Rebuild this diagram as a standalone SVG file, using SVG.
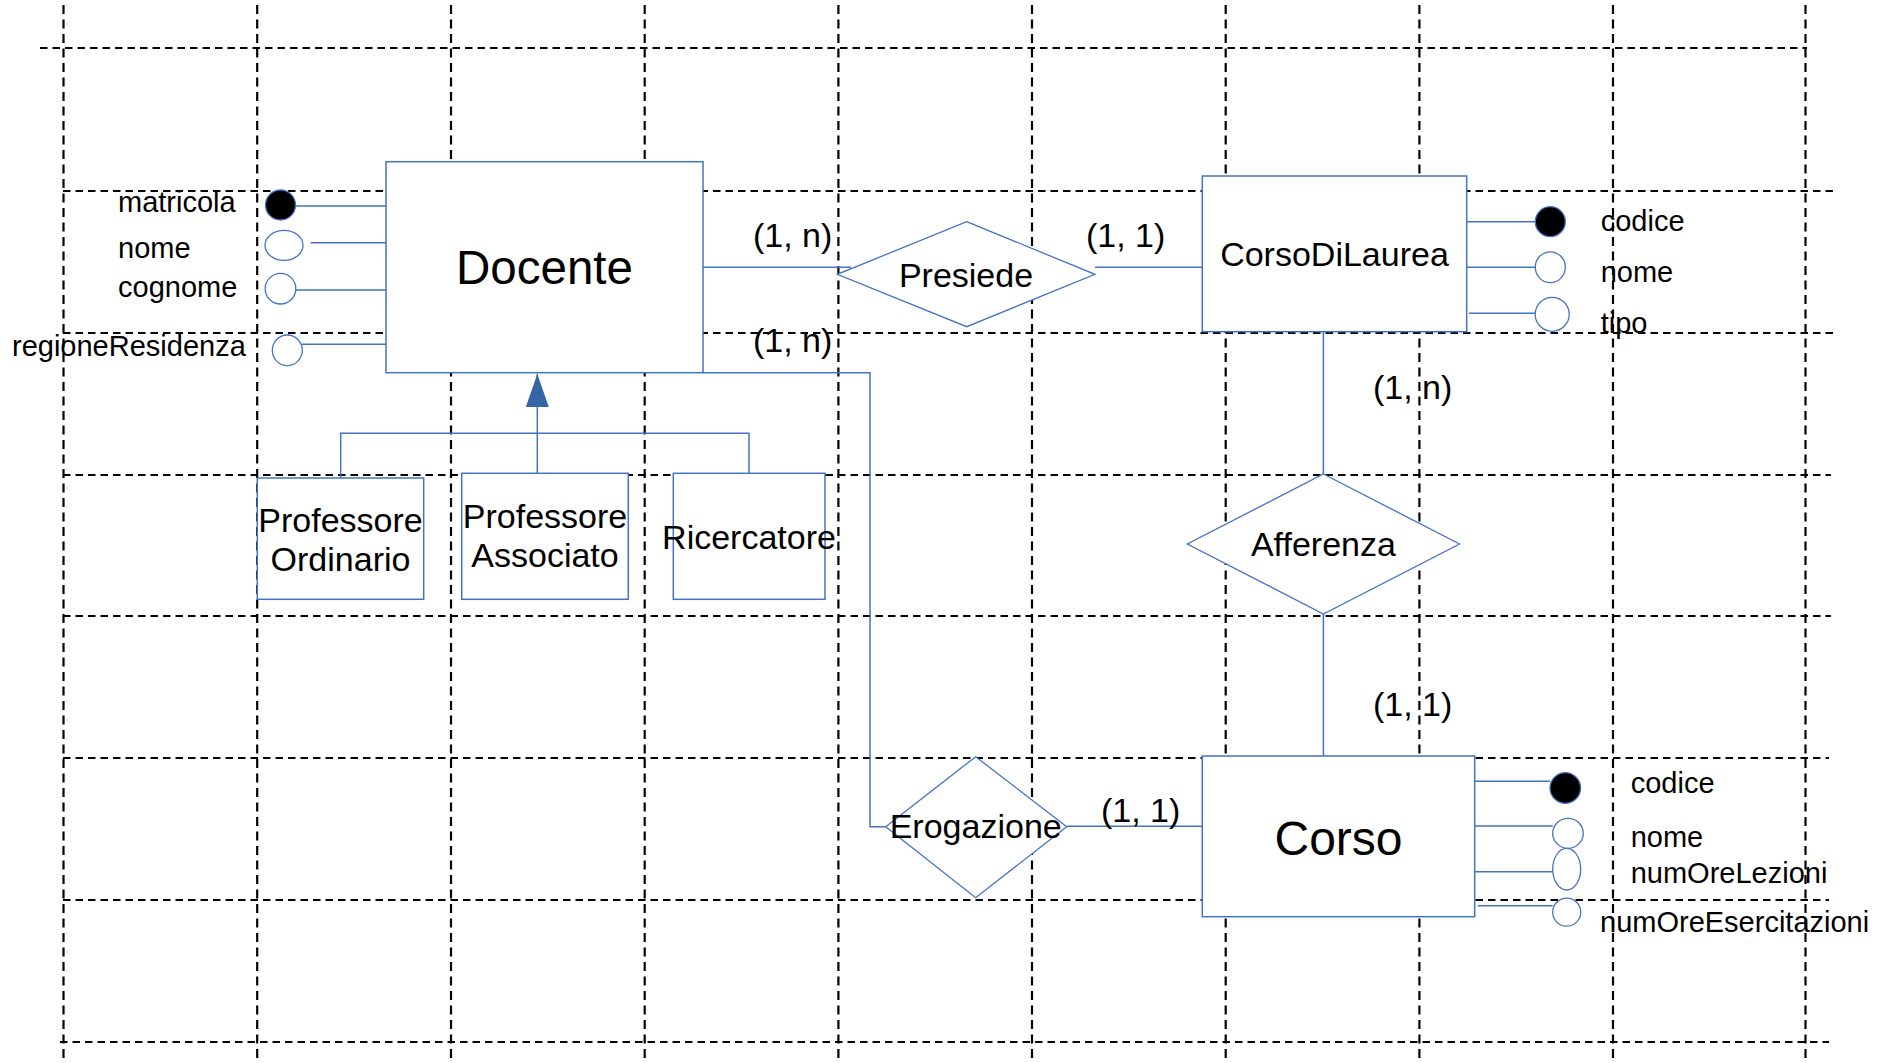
<svg xmlns="http://www.w3.org/2000/svg" width="1877" height="1063" viewBox="0 0 1877 1063">
<style>
.gh{stroke:#000;stroke-width:2.2;stroke-dasharray:7.5 5;fill:none}
.gv{stroke:#000;stroke-width:2.2;stroke-dasharray:9 5.5;fill:none}
.ent{fill:#fff;stroke:#4472c4;stroke-width:1.5}
.rel{fill:#fff;stroke:#4472c4;stroke-width:1.3}
.conn{stroke:#4472c4;stroke-width:1.5;fill:none}
.attr{fill:#fff;stroke:#4472c4;stroke-width:1.3}
.key{fill:#000;stroke:#4472c4;stroke-width:1.3}
text{font-family:"Liberation Sans",Arial,sans-serif;fill:#000}
.lbl{font-size:29px}
.card{font-size:34px}
.nm{font-size:34px;text-anchor:middle}
.big{font-size:47.5px;text-anchor:middle}
</style>
<defs>
<marker id="gen" markerUnits="userSpaceOnUse" markerWidth="34" markerHeight="24" refX="33" refY="11.5" orient="auto">
<path d="M0,0 L33,11.5 L0,23 Z" fill="#3465a4"/>
</marker>
</defs>
<rect width="1877" height="1063" fill="#fff"/>
<g id="grid">
<path class="gv" d="M63.5,5V1060M257.2,5V1060M451,5V1060M644.7,5V1060M838.4,5V1060M1032,5V1060M1225.7,5V1060M1419.4,5V1060M1613,5V1060M1805.5,5V1060"/>
<path class="gh" d="M40,48H1807M63,191H1836M63,333H1836M63,475H1831M63,616H1831M63,758H1829M63,900H1829M60,1042H1829"/>
</g>
<g id="connectors">
<path class="conn" d="M296,206H386M310.7,242.7H386M296,290H386M302,344.3H389"/>
<path class="conn" d="M703,267.3H851M1095,267.3H1202"/>
<path class="conn" d="M1467,221.7H1535M1467,267.3H1535M1469,313.3H1535"/>
<path class="conn" d="M1323.4,331.7V474M1323.4,614V756"/>
<path class="conn" d="M703,372.7H870V826.7H885.7M1066.7,826.3H1202"/>
<path class="conn" d="M1474.7,781.3H1550M1474.7,826H1552.7M1474.7,871.7H1552.7M1477.7,905.7H1552.7"/>
<path class="conn" d="M340.7,478V433.3H749V473.3"/>
<path class="conn" d="M537.3,473.3V374" marker-end="url(#gen)"/>
</g>
<g id="Docente">
<rect class="ent" x="386" y="161.7" width="317" height="211"/>
<text class="big" x="544.5" y="284">Docente</text>
</g>
<g id="attr-matricola"><ellipse class="key" cx="280.5" cy="205" rx="15" ry="15"/><text class="lbl" x="118" y="212">matricola</text></g>
<g id="attr-nome-docente"><ellipse class="attr" cx="284" cy="245.3" rx="19" ry="15"/><text class="lbl" x="118" y="257.5">nome</text></g>
<g id="attr-cognome"><ellipse class="attr" cx="280.5" cy="288.7" rx="15.3" ry="15.3"/><text class="lbl" x="118" y="296.5">cognome</text></g>
<g id="attr-regioneResidenza"><ellipse class="attr" cx="287.3" cy="350.3" rx="15" ry="15.3"/><text class="lbl" x="12" y="355.5">regioneResidenza</text></g>
<g id="ProfessoreOrdinario">
<rect class="ent" x="257.3" y="478" width="166.4" height="121.3"/>
<text class="nm" x="340.5" y="531.7">Professore</text>
<text class="nm" x="340.5" y="570.7">Ordinario</text>
</g>
<g id="ProfessoreAssociato">
<rect class="ent" x="461.7" y="473.3" width="166.6" height="126"/>
<text class="nm" x="545" y="528.3">Professore</text>
<text class="nm" x="545" y="567.3">Associato</text>
</g>
<g id="Ricercatore">
<rect class="ent" x="673.3" y="473.3" width="151.7" height="126"/>
<text class="nm" x="749" y="548.5">Ricercatore</text>
</g>
<g id="Presiede">
<polygon class="rel" points="966.7,221.7 1095,274.3 966.7,326.7 837.3,274.3"/>
<text class="nm" x="966" y="286.7">Presiede</text>
</g>
<g id="CorsoDiLaurea">
<rect class="ent" x="1202.3" y="176" width="264.4" height="155.7"/>
<text class="nm" x="1334.5" y="266">CorsoDiLaurea</text>
</g>
<g id="attr-codice-cdl"><ellipse class="key" cx="1550.3" cy="221.7" rx="15" ry="15"/><text class="lbl" x="1600.7" y="231">codice</text></g>
<g id="attr-nome-cdl"><ellipse class="attr" cx="1550.3" cy="267.2" rx="15" ry="15.4"/><text class="lbl" x="1600.7" y="282">nome</text></g>
<g id="attr-tipo"><ellipse class="attr" cx="1552.2" cy="314.3" rx="17" ry="17"/><text class="lbl" x="1600.7" y="332.5">tipo</text></g>
<g id="Afferenza">
<polygon class="rel" points="1323.4,474 1459.5,544 1323.4,614 1187.3,544"/>
<text class="nm" x="1323.4" y="556">Afferenza</text>
</g>
<g id="Erogazione">
<polygon class="rel" points="975.7,756.7 1066.7,826.7 975.7,897.7 885.7,826.7"/>
<text class="nm" x="975.7" y="838.3">Erogazione</text>
</g>
<g id="Corso">
<rect class="ent" x="1202.3" y="756" width="272.4" height="160.7"/>
<text class="big" x="1338.5" y="854.5" style="font-size:48px">Corso</text>
</g>
<g id="attr-codice-corso"><ellipse class="key" cx="1565.3" cy="788" rx="15.3" ry="15.3"/><text class="lbl" x="1630.7" y="792.7">codice</text></g>
<g id="attr-nome-corso"><ellipse class="attr" cx="1568" cy="833.3" rx="15.3" ry="15"/><text class="lbl" x="1630.7" y="846.7">nome</text></g>
<g id="attr-numOreLezioni"><ellipse class="attr" cx="1566.7" cy="869.2" rx="14" ry="20.8"/><text class="lbl" x="1630.7" y="882.5">numOreLezioni</text></g>
<g id="attr-numOreEsercitazioni"><ellipse class="attr" cx="1566.7" cy="912.2" rx="14" ry="14"/><text class="lbl" x="1600" y="932">numOreEsercitazioni</text></g>
<g id="cardinalities">
<text class="card" x="753" y="247">(1, n)</text>
<text class="card" x="1086" y="247">(1, 1)</text>
<text class="card" x="753" y="352">(1, n)</text>
<text class="card" x="1373" y="399">(1, n)</text>
<text class="card" x="1373" y="716">(1, 1)</text>
<text class="card" x="1101" y="821.5">(1, 1)</text>
</g>
</svg>
